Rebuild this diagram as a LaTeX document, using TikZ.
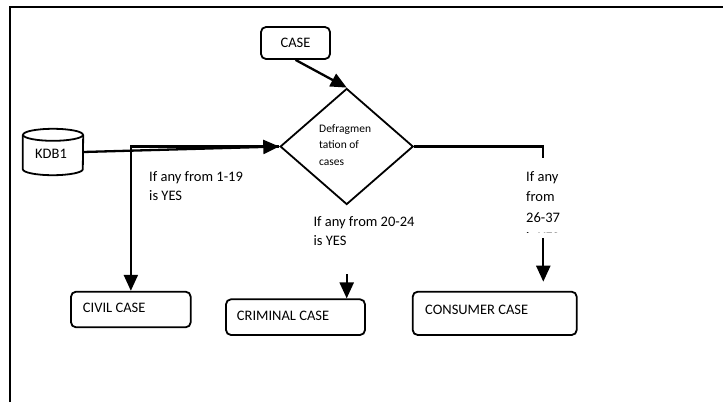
\documentclass[tikz,border=0pt]{standalone}
\usepackage{fontspec}
\setmainfont{Carlito}
\usetikzlibrary{arrows.meta,shapes.geometric}
\tikzset{
  box/.style={draw, line width=1.8pt, rounded corners=5pt, inner sep=0pt},
  lbl/.style={inner sep=0pt, font=\fontsize{14.5}{19}\selectfont, align=left},
  conn/.style={line width=2.3pt},
  arr/.style={line width=2.3pt, -{Triangle[length=16pt,width=14pt]}},
}
\begin{document}
\begin{tikzpicture}[x=1pt,y=-1pt]
\useasboundingbox (0,0) rectangle (723,402);
% frame
\draw[line width=2pt] (9.5,402) -- (9.5,7) -- (723,7);

% nodes
\node[box, minimum width=69pt, minimum height=32pt, font=\fontsize{14.5}{19}\selectfont] (case) at (295.5,43) {CASE};
\node[diamond, draw, line width=1.8pt, minimum width=133pt, minimum height=116pt, inner sep=0pt] (dia) at (346.7,146.5) {};
\node[lbl, anchor=west, font=\fontsize{11.5}{16.5}\selectfont] (diatext) at (319,145) {Defragmen\\tation of\\cases};

\node[inner sep=0pt, minimum width=60pt, minimum height=46pt] (kdb) at (53,152) {};
\draw[line width=1.8pt] ([yshift=-6pt]kdb.north west) -- ([yshift=6pt]kdb.south west)
   arc[start angle=180, end angle=360, x radius=30pt, y radius=6pt]
   -- ([yshift=-6pt]kdb.north east);
\draw[line width=1.8pt] ([yshift=-6pt]kdb.north) ellipse[x radius=30pt, y radius=6pt];
\node[lbl] (kdbtext) at (51,154) {KDB1};

\node[box, minimum width=119.7pt, minimum height=35.6pt] (civil) at (130.85,309.5) {};
\node[lbl, anchor=west] (civiltext) at (82.7,307.5) {CIVIL CASE};
\node[box, minimum width=139pt, minimum height=35.7pt] (crim) at (295.5,317.15) {};
\node[lbl, anchor=west] (crimtext) at (236.7,316) {CRIMINAL CASE};
\node[box, minimum width=164pt, minimum height=43.3pt] (cons) at (494.7,313.35) {};
\node[lbl, anchor=west] (constext) at (425,309.5) {CONSUMER CASE};

% condition labels
\node[lbl, anchor=west] (c1) at (149,186) {If any from 1-19\\is YES};
\node[lbl, anchor=west, font=\fontsize{14.5}{18.5}\selectfont] (c2) at (313.3,231) {If any from 20-24\\is YES};
\begin{scope}
\clip (500,150) rectangle (640,232.6);
\node[lbl, anchor=west, font=\fontsize{14.5}{20.3}\selectfont] (c3) at (526,207) {If any\\from\\26-37\\is YES};
\end{scope}

% connectors
\draw[arr] (case.south) -- (dia.north);
\draw[arr] (kdb.east) -- (dia.west);
\draw[arr] (dia.west) -| (civil.north);
\coordinate (crimstart) at (346.7,274);
\draw[arr] (crimstart) -- (crimstart |- crim.north);
\coordinate (consbend) at (543.3,157.7);
\draw[conn] (dia.east) -| (consbend);
\coordinate (consstart) at (543.3,238.3);
\coordinate (consend) at (543.3,281.7);
\draw[arr] (consstart) -- (consend);
\end{tikzpicture}
\end{document}
